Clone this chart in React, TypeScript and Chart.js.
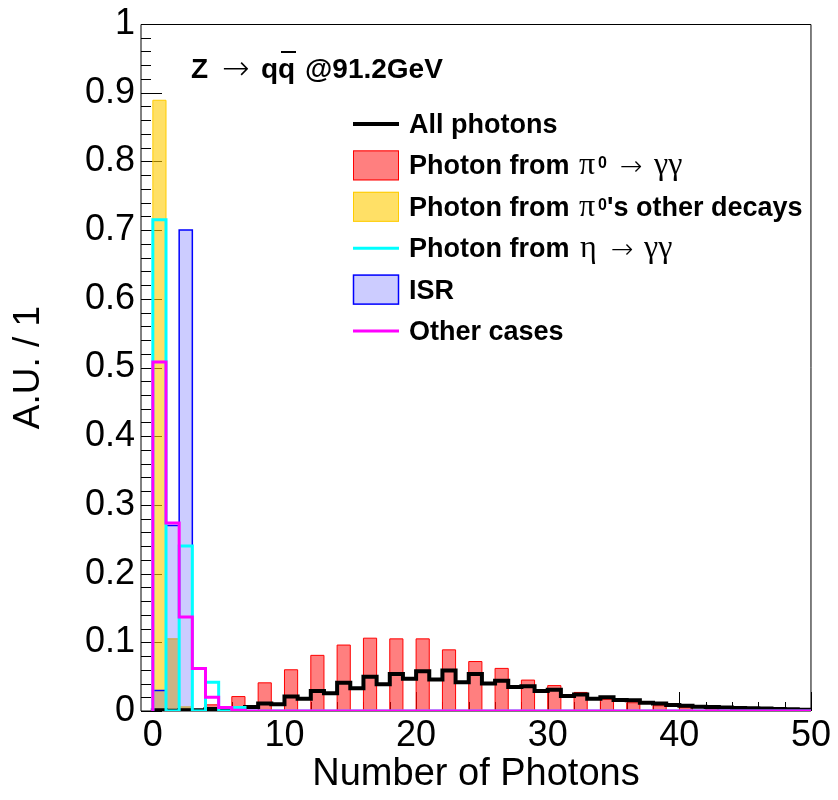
import { useEffect, useRef } from "react";
import { Chart, registerables } from "chart.js";

Chart.register(...registerables);

// ---------------- data ----------------
const N_BINS = 50;
// lower edges of the unit-width bins (number of photons)
const binLowEdges = Array.from({ length: N_BINS }, (_, i) => i);

const allPhotons = [
  0.001, 0.0005, 0.001, 0.001, 0.003, 0.003, 0.004, 0.006, 0.011, 0.010,
  0.021, 0.018, 0.029, 0.026, 0.041, 0.033, 0.050, 0.039, 0.054, 0.047,
  0.058, 0.046, 0.059, 0.042, 0.054, 0.040, 0.044, 0.035, 0.036, 0.029,
  0.031, 0.022, 0.024, 0.018, 0.020, 0.016, 0.0155, 0.012, 0.011, 0.0087,
  0.0077, 0.0062, 0.0058, 0.005, 0.0045, 0.004, 0.0035, 0.003, 0.0025, 0.002,
];

const photonPi0GG = [
  0, 0, 0.003, 0, 0.009, 0, 0.021, 0, 0.041, 0,
  0.060, 0, 0.081, 0, 0.096, 0, 0.106, 0, 0.105, 0,
  0.105, 0, 0.089, 0, 0.072, 0, 0.062, 0, 0.045, 0,
  0.037, 0, 0.027, 0, 0.017, 0, 0.012, 0, 0.0077, 0,
  0.0048, 0, 0.0025, 0, 0.0012, 0, 0.0006, 0, 0.0003, 0,
];

// bins not listed are zero
const photonPi0Other = [0.889, 0.105, 0.006];
const photonEtaGG = [0.715, 0, 0.24, 0, 0.042, 0, 0.005];
const photonISR = [0.03, 0.27, 0.7, 0.002];
const otherCases = [0.508, 0.2735, 0.137, 0.062, 0.02, 0.005, 0.001];

const xTickValues = [0, 10, 20, 30, 40, 50];
const xTickLabels = ["0", "10", "20", "30", "40", "50"];
const yTickValues = [0, 0.1, 0.2, 0.3, 0.4, 0.5, 0.6, 0.7, 0.8, 0.9, 1];
const yTickLabels = ["0", "0.1", "0.2", "0.3", "0.4", "0.5", "0.6", "0.7", "0.8", "0.9", "1"];

// ---------------- helpers ----------------
const padBins = (v: number[]) => binLowEdges.map((_, i) => (v[i] !== undefined ? v[i] : 0));

function histPoints(vals: number[]) {
  const full = padBins(vals);
  const pts: { x: number; y: number }[] = [{ x: binLowEdges[0], y: 0 }];
  full.forEach((v, i) => pts.push({ x: binLowEdges[i], y: v }));
  pts.push({ x: binLowEdges[N_BINS - 1] + 1, y: 0 });
  return pts;
}

const SANS = "'Liberation Sans', Arial, Helvetica, sans-serif";
const SERIF = "'Liberation Serif', 'Times New Roman', serif";
const ARROWFONT = "'DejaVu Sans', sans-serif";

const RED_FILL = "rgba(255,0,0,0.5)";
const YELLOW_FILL = "rgba(255,204,0,0.6)";
const ISR_FILL = "rgba(0,0,255,0.2)";

type Part = { text: string; font: string; x: number; dy?: number };
type Entry = {
  symbol: "line" | "box";
  color: string;
  fill?: string;
  lineWidth: number;
  parts: Part[];
};

const BOLD = `bold 27px ${SANS}`;
const GREEK = `32px ${SERIF}`;
const SUP = `bold 16px ${SANS}`;
const ARROW = `200 27px ${ARROWFONT}`;

const legendEntries: Entry[] = [
  { symbol: "line", color: "#000000", lineWidth: 4, parts: [{ text: "All photons", font: BOLD, x: 409 }] },
  {
    symbol: "box", color: "#ff0000", fill: RED_FILL, lineWidth: 1,
    parts: [
      { text: "Photon from", font: BOLD, x: 409 },
      { text: "π", font: GREEK, x: 579 },
      { text: "0", font: SUP, x: 598, dy: -6 },
      { text: "→", font: ARROW, x: 620, dy: 1 },
      { text: "γγ", font: GREEK, x: 654 },
    ],
  },
  {
    symbol: "box", color: "#ffcc00", fill: YELLOW_FILL, lineWidth: 1,
    parts: [
      { text: "Photon from", font: BOLD, x: 409 },
      { text: "π", font: GREEK, x: 579 },
      { text: "0", font: SUP, x: 598, dy: -6 },
      { text: "'s other decays", font: BOLD, x: 607 },
    ],
  },
  {
    symbol: "line", color: "#00ffff", lineWidth: 3,
    parts: [
      { text: "Photon from", font: BOLD, x: 409 },
      { text: "η", font: GREEK, x: 580 },
      { text: "→", font: ARROW, x: 611, dy: 1 },
      { text: "γγ", font: GREEK, x: 644 },
    ],
  },
  { symbol: "box", color: "#0000ff", fill: ISR_FILL, lineWidth: 1.5, parts: [{ text: "ISR", font: BOLD, x: 409 }] },
  { symbol: "line", color: "#ff00ff", lineWidth: 3, parts: [{ text: "Other cases", font: BOLD, x: 409 }] },
];

// frame + inward ticks (drawn under the histograms, like ROOT)
const framePlugin = {
  id: "rootFrame",
  beforeDatasetsDraw(chart: any) {
    const { ctx, chartArea } = chart;
    const xs = chart.scales.x;
    const ys = chart.scales.y;
    ctx.save();
    ctx.strokeStyle = "#000";
    ctx.lineWidth = 1;
    ctx.beginPath();
    ctx.moveTo(chartArea.left, chartArea.bottom);
    ctx.lineTo(chartArea.left, chartArea.top + 0.5);
    ctx.lineTo(chartArea.right, chartArea.top + 0.5);
    ctx.lineTo(chartArea.right, chartArea.bottom);
    ctx.lineTo(chartArea.left, chartArea.bottom);
    ctx.stroke();
    // y ticks: major every 0.1, minor every 0.02
    ctx.beginPath();
    for (let i = 0; i <= 50; i++) {
      const y = Math.round(ys.getPixelForValue(i * 0.02)) + 0.5;
      const len = i % 5 === 0 ? 21 : 10;
      ctx.moveTo(chartArea.left, y);
      ctx.lineTo(chartArea.left + len, y);
    }
    // x ticks: major every 10, minor every 2
    for (let i = 0; i <= 25; i++) {
      const x = Math.round(xs.getPixelForValue(i * 2)) + 0.5;
      const len = i % 5 === 0 ? 19 : 9;
      ctx.moveTo(x, chartArea.bottom);
      ctx.lineTo(x, chartArea.bottom - len);
    }
    ctx.stroke();
    ctx.restore();
  },
  afterDraw(chart: any) {
    const { ctx } = chart;
    ctx.save();
    ctx.fillStyle = "#000";
    ctx.textBaseline = "alphabetic";
    ctx.textAlign = "left";
    // title: Z -> q qbar @91.2GeV
    const tb = 78;
    ctx.font = `bold 28px ${SANS}`;
    ctx.fillText("Z", 191, tb);
    ctx.font = `200 33px ${ARROWFONT}`;
    ctx.fillText("→", 222, tb + 1);
    ctx.font = `bold 28px ${SANS}`;
    ctx.fillText("qq", 261, tb);
    ctx.fillText("@91.2GeV", 305, tb);
    ctx.fillRect(281, 51, 15, 2);

    // legend
    legendEntries.forEach((e, i) => {
      const cy = 124 + i * 41.4;
      if (e.symbol === "line") {
        ctx.strokeStyle = e.color;
        ctx.lineWidth = e.lineWidth;
        ctx.beginPath();
        ctx.moveTo(353, cy);
        ctx.lineTo(399, cy);
        ctx.stroke();
      } else {
        ctx.fillStyle = e.fill as string;
        ctx.fillRect(353, cy - 15, 46, 30);
        ctx.strokeStyle = e.color;
        ctx.lineWidth = e.lineWidth;
        ctx.strokeRect(353.5, cy - 14.5, 45, 29);
      }
      ctx.fillStyle = "#000";
      e.parts.forEach((p) => {
        ctx.font = p.font;
        ctx.fillText(p.text, p.x, cy + 9 + (p.dy || 0));
      });
    });
    ctx.restore();
  },
};

function lineDs(label: string, vals: number[], color: string, width: number, order: number) {
  return {
    type: "line" as const,
    label,
    data: histPoints(vals),
    borderColor: color,
    borderWidth: width,
    backgroundColor: "transparent",
    fill: false,
    stepped: true,
    pointRadius: 0,
    tension: 0,
    borderJoinStyle: "miter" as const,
    order,
  };
}

function filledDs(label: string, vals: number[], color: string, fillColor: string, width: number, order: number) {
  return {
    type: "line" as const,
    label,
    data: histPoints(vals),
    borderColor: color,
    borderWidth: width,
    backgroundColor: fillColor,
    fill: "origin",
    stepped: true,
    pointRadius: 0,
    tension: 0,
    borderJoinStyle: "miter" as const,
    order,
  };
}

export default function App() {
  const ref = useRef<HTMLCanvasElement>(null);

  useEffect(() => {
    if (!ref.current) return;
    const chart = new Chart(ref.current, {
      type: "line",
      data: {
        datasets: [
          lineDs("Other cases", otherCases, "#ff00ff", 3, 1),
          lineDs("Photon from η → γγ", photonEtaGG, "#00ffff", 3, 2),
          lineDs("All photons", allPhotons, "#000000", 4, 3),
          filledDs("ISR", photonISR, "#0000ff", ISR_FILL, 1.5, 4),
          filledDs("Photon from π0's other decays", photonPi0Other, "#ffcc00", YELLOW_FILL, 1, 5),
          filledDs("Photon from π0 → γγ", photonPi0GG, "#ff0000", RED_FILL, 1, 6),
        ] as any,
      },
      options: {
        animation: false,
        responsive: false,
        maintainAspectRatio: false,
        layout: { padding: { left: 0, right: 25, top: 19, bottom: 0 } },
        plugins: {
          legend: { display: false },
          tooltip: { enabled: false },
          title: { display: false },
        },
        scales: {
          x: {
            type: "linear",
            min: -0.9,
            max: 50,
            afterFit: (s: any) => {
              s.height = 89;
            },
            afterBuildTicks: (s: any) => {
              s.ticks = xTickValues.map((v) => ({ value: v }));
            },
            grid: { display: false, drawTicks: false, tickLength: 0 },
            border: { display: false },
            ticks: {
              padding: 7,
              color: "#000",
              autoSkip: false,
              maxRotation: 0,
              font: { family: SANS, size: 36, lineHeight: 1.0 },
              callback: (_v: any, i: number) => xTickLabels[i],
            },
            title: {
              display: true,
              text: "Number of Photons",
              color: "#000",
              font: { family: SANS, size: 38, lineHeight: 1.2 },
              padding: { top: 0, bottom: 3 },
            },
          },
          y: {
            type: "linear",
            min: 0,
            max: 1,
            afterFit: (s: any) => {
              s.width = 141;
            },
            afterBuildTicks: (s: any) => {
              s.ticks = yTickValues.map((v) => ({ value: v }));
            },
            grid: { display: false, drawTicks: false, tickLength: 0 },
            border: { display: false },
            ticks: {
              padding: 6,
              color: "#000",
              autoSkip: false,
              font: { family: SANS, size: 36, lineHeight: 1.0 },
              callback: (_v: any, i: number) => yTickLabels[i],
            },
            title: {
              display: true,
              text: "A.U. / 1",
              color: "#000",
              font: { family: SANS, size: 37, lineHeight: 1.2 },
              padding: { top: 7, bottom: 0 },
            },
          },
        },
      },
      plugins: [framePlugin],
    });
    return () => chart.destroy();
  }, []);

  return (
    <div style={{ position: "absolute", left: 0, top: 0, width: 838, height: 800, background: "#fff" }}>
      <canvas ref={ref} width={838} height={800} style={{ display: "block", width: 838, height: 800 }} />
    </div>
  );
}
